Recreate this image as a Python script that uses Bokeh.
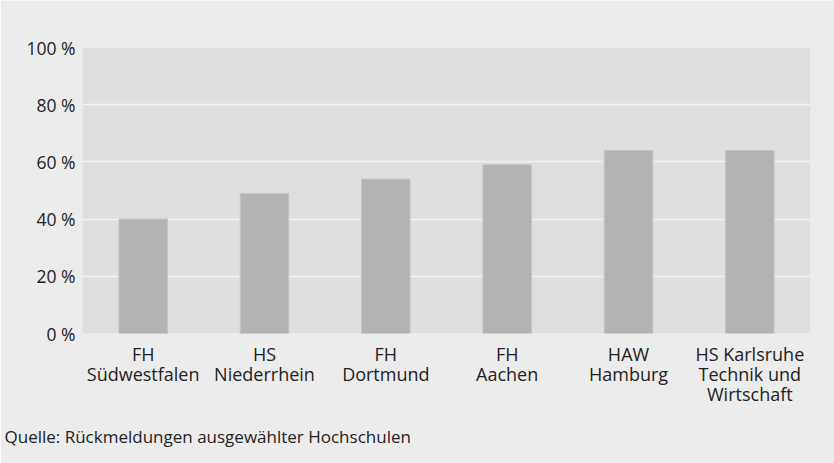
from bokeh.plotting import figure
from bokeh.models import FixedTicker, Title, Range1d
from bokeh.embed import file_html
from bokeh.resources import INLINE

categories = ["FH\nSüdwestfalen", "HS\nNiederrhein", "FH\nDortmund", "FH\nAachen",
              "HAW\nHamburg", "HS Karlsruhe\nTechnik und\nWirtschaft"]
values = [40, 49, 54, 59, 64, 64]
y_ticks = [0, 20, 40, 60, 80, 100]
y_tick_labels = ["0 %", "20 %", "40 %", "60 %", "80 %", "100 %"]
source_text = "Quelle: Rückmeldungen ausgewählter Hochschulen"

FONT = "Open Sans"
BG = "#ececec"

xs = list(range(len(categories)))

p = figure(width=834, height=463, output_backend="svg", toolbar_location=None,
           x_range=Range1d(-0.5, len(categories) - 0.5), y_range=Range1d(0, 100),
           min_border_left=82, min_border_right=24, min_border_top=47, min_border_bottom=130)
p.background_fill_color = "#dedede"
p.border_fill_color = BG
p.outline_line_color = None

p.vbar(x=xs, top=values, width=0.4, bottom=0, fill_color="#b2b3b4", line_color="#c4c5c6", line_width=1)

p.xgrid.visible = False
p.ygrid.ticker = FixedTicker(ticks=[20, 40, 60, 80])
p.ygrid.grid_line_color = "#f2f2f2"
p.ygrid.grid_line_width = 1.6
p.ygrid.level = "underlay"

p.yaxis.ticker = FixedTicker(ticks=y_ticks)
p.yaxis.major_label_overrides = {t: l for t, l in zip(y_ticks, y_tick_labels)}
p.xaxis.ticker = FixedTicker(ticks=xs)
p.xaxis.major_label_overrides = {x: c for x, c in zip(xs, categories)}

for ax in (p.xaxis[0], p.yaxis[0]):
    ax.axis_line_color = None
    ax.major_tick_line_color = None
    ax.minor_tick_line_color = None
    ax.major_tick_out = 0
    ax.major_tick_in = 0
    ax.major_label_text_font = FONT
    ax.major_label_text_color = "#222222"
p.yaxis.major_label_text_font_size = "17.5px"
p.xaxis.major_label_text_font_size = "18px"
p.xaxis.major_label_text_line_height = 0.85
p.yaxis.major_label_standoff = 7
p.xaxis.major_label_standoff = 8

t = Title(text=source_text, align="left", offset=-78, text_font=FONT,
          text_font_size="17px", text_font_style="normal", text_color="#222222",
          standoff=27)
p.add_layout(t, "below")

html = file_html(p, INLINE)
html = html.replace("<body>", '<body style="background:%s;margin:0;overflow:hidden">' % BG, 1)
open("out.html", "w").write(html)
